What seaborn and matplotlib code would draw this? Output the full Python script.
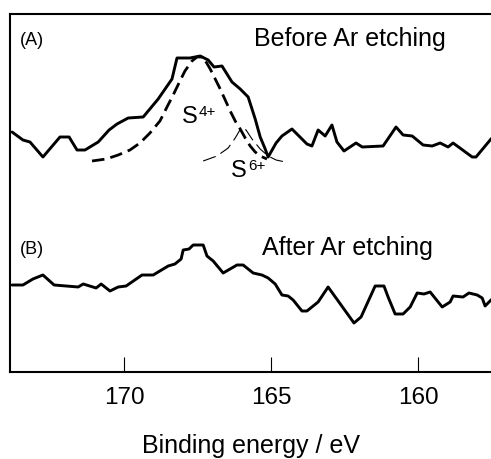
import matplotlib
matplotlib.use('Agg')
import matplotlib.pyplot as plt
import seaborn as sns

# Trace (A): before Ar etching
energy_a = [173.81, 173.44, 173.20, 172.76, 172.18, 171.87, 171.60, 171.33, 170.88, 170.51,
            170.24, 169.86, 169.35, 168.84, 168.37, 168.20, 167.76, 167.41, 167.14, 166.94,
            166.67, 166.33, 166.05, 165.78, 165.54, 165.37, 165.20, 165.10, 164.83, 164.63,
            164.29, 163.78, 163.61, 163.40, 163.16, 162.93, 162.76, 162.52, 162.11, 161.90,
            161.19, 160.75, 160.51, 160.20, 159.83, 159.52, 159.25, 158.98, 158.81, 158.16,
            158.03, 157.52, 157.38]
intensity_a = [240, 232, 230, 215, 235, 235, 222, 222, 230, 242,
               248, 254, 255, 273, 293, 314, 314, 316, 312, 305,
               306, 290, 283, 275, 253, 235, 223, 215, 229, 236,
               243, 228, 226, 242, 236, 247, 230, 221, 229, 225,
               226, 245, 237, 236, 227, 226, 229, 225, 229, 215,
               215, 233, 237]

# Trace (B): after Ar etching
energy_b = [173.81, 173.44, 173.10, 172.76, 172.38, 171.56, 171.39, 170.95, 170.78, 170.48,
            170.20, 169.93, 169.39, 169.01, 168.50, 168.27, 168.06, 167.99, 167.79, 167.65,
            167.31, 167.18, 166.97, 166.63, 166.16, 165.95, 165.61, 165.31, 165.10, 164.86,
            164.63, 164.42, 164.25, 163.95, 163.78, 163.40, 163.06, 162.18, 161.94, 161.46,
            161.16, 161.02, 160.78, 160.51, 160.27, 160.03, 159.80, 159.59, 159.18, 158.91,
            158.81, 158.47, 158.27, 157.99, 157.82, 157.72, 157.52, 157.38]
intensity_b = [87, 87, 93, 97, 87, 85, 88, 84, 88, 81,
               85, 86, 97, 97, 106, 108, 113, 122, 123, 127,
               127, 116, 111, 99, 107, 107, 99, 97, 94, 88,
               77, 76, 72, 61, 61, 70, 85, 49, 55, 86,
               86, 75, 58, 58, 65, 79, 78, 80, 65, 70,
               76, 75, 79, 77, 74, 66, 72, 75]

# Fitted component S4+
energy_s4 = [171.09, 170.61, 170.20, 169.80, 169.46, 169.12, 168.78, 168.54, 168.33, 168.10,
             167.93, 167.69, 167.52, 167.31, 167.07, 166.90, 166.73, 166.56, 166.39, 166.22,
             166.05, 165.88, 165.71, 165.54, 165.37, 165.14]
intensity_s4 = [211, 213, 217, 222, 229, 239, 251, 265, 277, 291,
                301, 311, 315, 315, 303, 293, 283, 272, 261, 251,
                243, 234, 226, 220, 216, 213]

# Fitted component S6+
energy_s6 = [167.31, 166.84, 166.46, 166.22, 166.02, 165.85, 165.65, 165.37, 165.10, 164.83, 164.52]
intensity_s6 = [211, 216, 224, 234, 244, 242, 233, 223, 216, 212, 210]

x_ticks = [170, 165, 160]
x_label = 'Binding energy / eV'

sns.set_theme(style='ticks')
plt.rcParams['font.family'] = ['Liberation Sans', 'DejaVu Sans']
plt.rcParams['text.color'] = 'black'
plt.rcParams['axes.labelcolor'] = 'black'

fig = plt.figure(figsize=(4.91, 4.60), dpi=100)
ax = fig.add_axes([10 / 491, 87 / 460, 481 / 491, 358 / 460])

sns.lineplot(x=energy_a, y=intensity_a, sort=False, estimator=None, color='black',
             linewidth=2.1, ax=ax)
sns.lineplot(x=energy_b, y=intensity_b, sort=False, estimator=None, color='black',
             linewidth=2.1, ax=ax)
sns.lineplot(x=energy_s4, y=intensity_s4, sort=False, estimator=None, color='black',
             linewidth=2.0, linestyle=(0, (4.5, 2.2)), ax=ax)
sns.lineplot(x=energy_s6, y=intensity_s6, sort=False, estimator=None, color='black',
             linewidth=0.8, linestyle=(0, (12, 5)), ax=ax)

ax.set_xlim(173.88, 157.52)
ax.set_ylim(0, 358)
ax.set_xticks(x_ticks)
ax.set_xticklabels([str(t) for t in x_ticks])
ax.set_yticks([])
ax.tick_params(axis='x', direction='in', length=10.8, width=0.8, pad=10,
               labelsize=17.5, colors='black', bottom=True, top=False)
for side in ['left', 'top', 'bottom']:
    ax.spines[side].set_color('black')
    ax.spines[side].set_linewidth(1.5)
ax.spines['right'].set_visible(False)
ax.set_xlabel(x_label, fontsize=18, labelpad=18, color='black')
ax.set_ylabel('')

ax.text(165.58, 327, 'Before Ar etching', fontsize=18, va='baseline', ha='left', color='black')
ax.text(165.31, 118, 'After Ar etching', fontsize=18, va='baseline', ha='left', color='black')
ax.text(173.54, 328, '(A)', fontsize=13, va='baseline', ha='left', color='black')
ax.text(173.54, 119, '(B)', fontsize=13, va='baseline', ha='left', color='black')

# S4+ label: main letter plus superscript
ax.text(168.02, 250, 'S', fontsize=17, va='baseline', ha='left', color='black')
ax.annotate('4+', xy=(168.02, 250), xytext=(12, 5), textcoords='offset points',
            fontsize=11, va='baseline', ha='left', color='black')
# S6+ label
ax.text(166.36, 196, 'S', fontsize=17, va='baseline', ha='left', color='black')
ax.annotate('6+', xy=(166.36, 196), xytext=(12, 5), textcoords='offset points',
            fontsize=11, va='baseline', ha='left', color='black')

fig.savefig('out.png', dpi=100)
